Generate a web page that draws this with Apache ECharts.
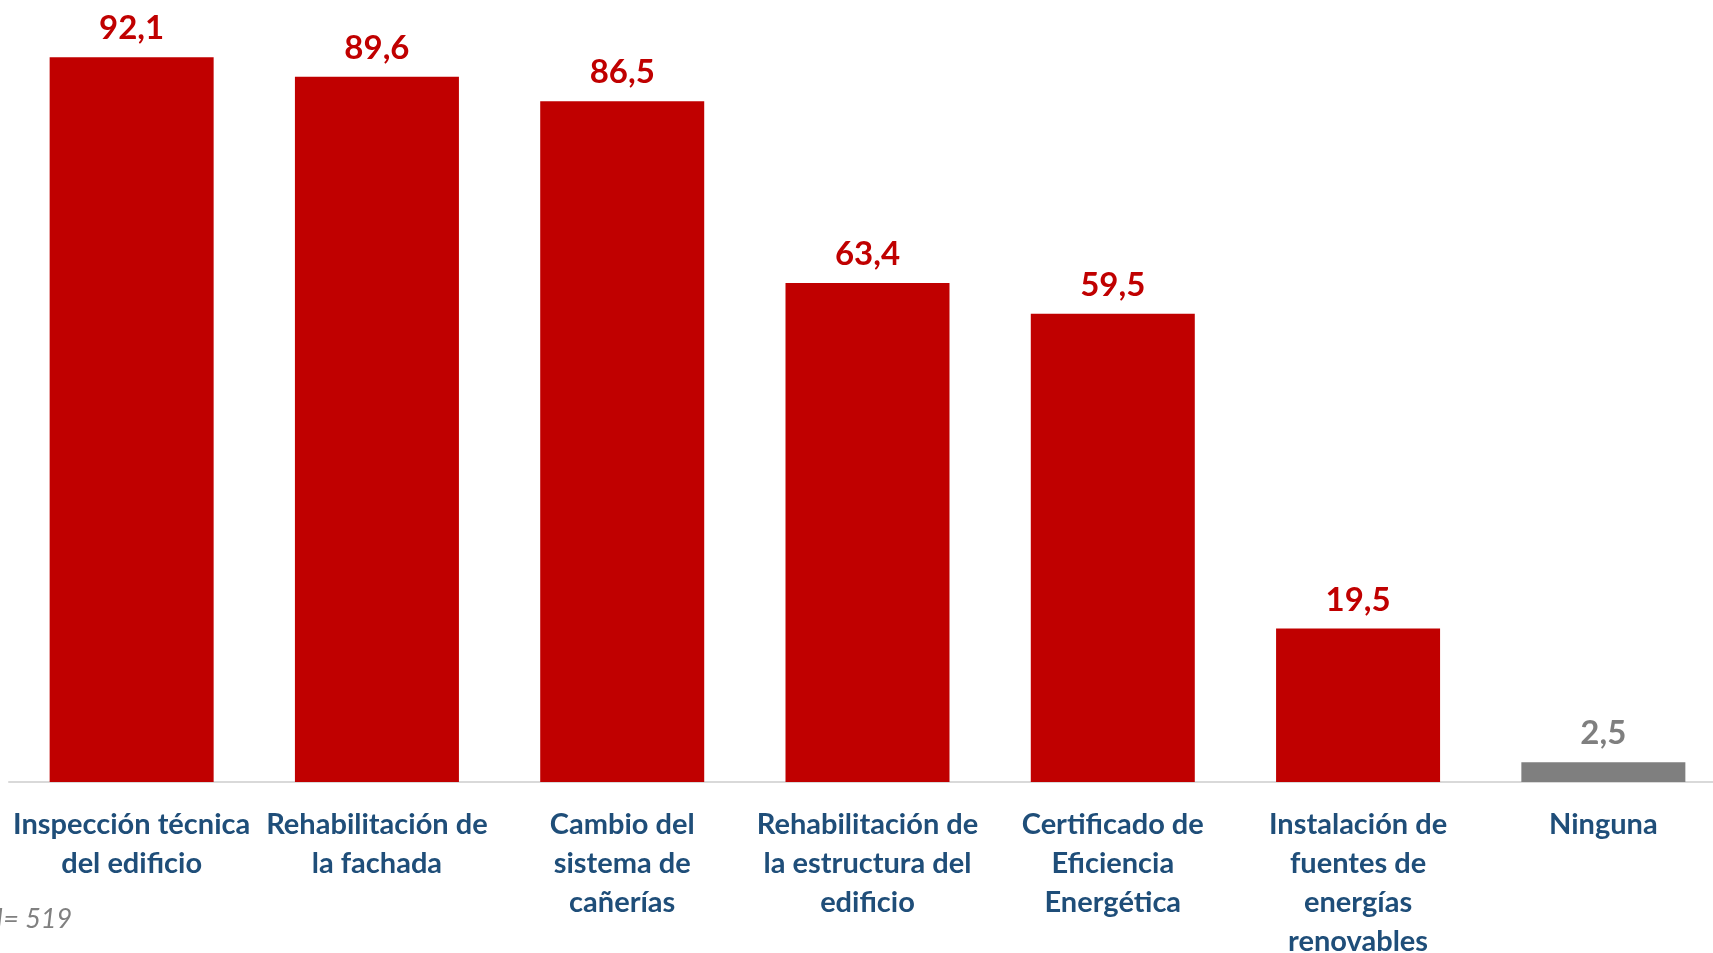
<!DOCTYPE html>
<html>
<head>
<meta charset="utf-8">
<script src="https://cdn.jsdelivr.net/npm/echarts@6/dist/echarts.min.js"></script>
<style>
  html, body { margin: 0; padding: 0; background: #ffffff; }
  #chart { width: 1713px; height: 953px; }
</style>
</head>
<body>
<div id="chart"></div>
<script>
// Actuaciones realizadas en el edificio (%)
const categories = [
  'Inspección técnica\ndel edificio',
  'Rehabilitación de\nla fachada',
  'Cambio del\nsistema de\ncañerías',
  'Rehabilitación de\nla estructura del\nedificio',
  'Certificado de\nEficiencia\nEnergética',
  'Instalación de\nfuentes de\nenergías\nrenovables',
  'Ninguna'
];
const values = [92.1, 89.6, 86.5, 63.4, 59.5, 19.5, 2.5];
const sampleNote = 'N= 519';

const RED = '#c00000';
const GREY = '#7f7f7f';
const isNone = (i) => i === categories.length - 1;

const chart = echarts.init(document.getElementById('chart'), null, { renderer: 'canvas' });

chart.setOption({
  backgroundColor: '#ffffff',
  animation: false,
  grid: {
    left: 9, top: -5, width: 1717, height: 787,
    containLabel: false,
    outerBoundsMode: 'none'
  },
  xAxis: {
    type: 'category',
    data: categories,
    axisLine: { show: true, lineStyle: { color: '#d9d9d9', width: 2 } },
    axisTick: { show: false },
    axisLabel: {
      interval: 0,
      margin: 23,
      fontFamily: 'Lato',
      fontWeight: 'bold',
      fontSize: 29,
      lineHeight: 39,
      color: '#1f4e79',
      align: 'center'
    }
  },
  yAxis: {
    type: 'value',
    min: 0,
    max: 100,
    show: false,
    splitLine: { show: false }
  },
  series: [{
    type: 'bar',
    barWidth: 164,
    data: values.map((v, i) => ({
      value: v,
      itemStyle: { color: isNone(i) ? GREY : RED },
      label: { color: isNone(i) ? GREY : RED }
    })),
    label: {
      show: true,
      position: 'top',
      distance: 12,
      fontFamily: 'Lato',
      fontWeight: 'bold',
      fontSize: 33,
      formatter: (p) => p.value.toFixed(1).replace('.', ',')
    }
  }],
  graphic: [{
    type: 'text',
    left: -16,
    top: 906,
    style: {
      text: sampleNote,
      fontFamily: 'Lato',
      fontStyle: 'italic',
      fontSize: 27,
      fill: '#808080'
    }
  }]
});
</script>
</body>
</html>
